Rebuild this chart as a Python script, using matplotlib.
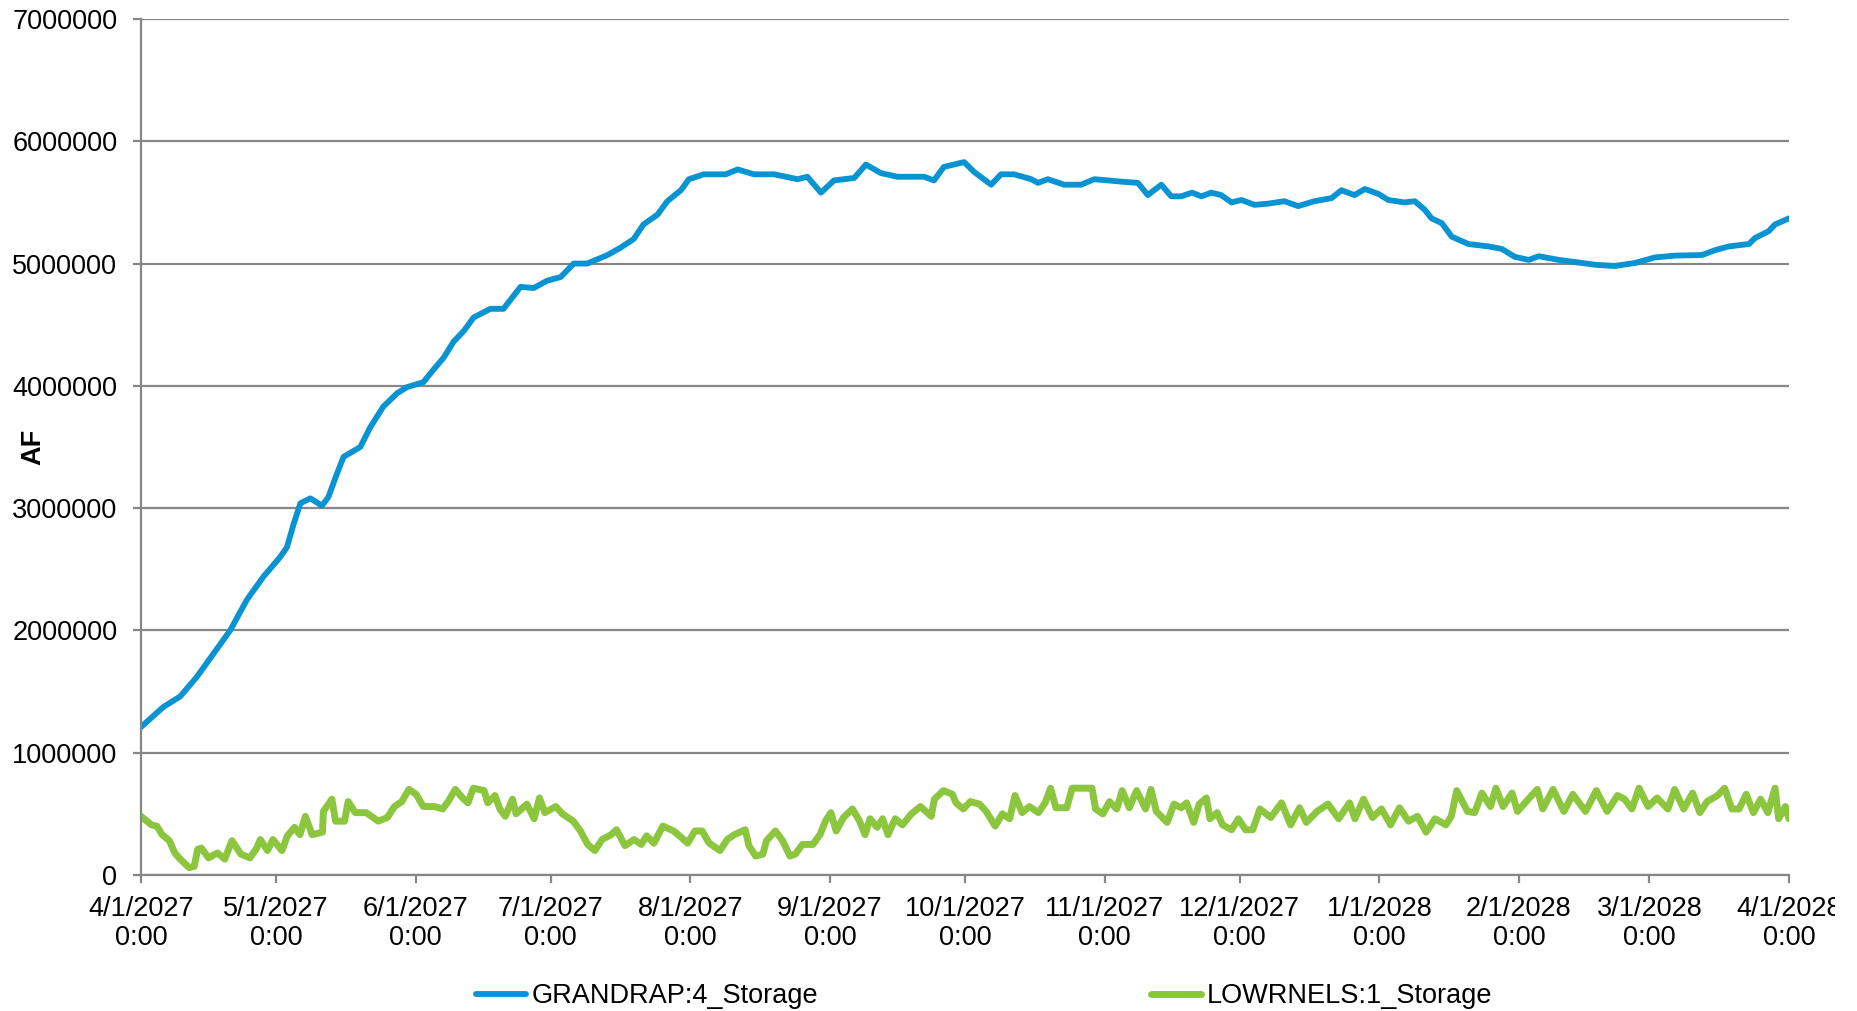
import pandas as pd
import matplotlib
matplotlib.use('Agg')
import matplotlib.pyplot as plt
import matplotlib.dates as mdates
from matplotlib.ticker import FuncFormatter, MultipleLocator
from matplotlib.transforms import Bbox

plt.rcParams['font.family'] = ['Liberation Sans', 'DejaVu Sans']

start = pd.Timestamp('2027-04-01')
end = pd.Timestamp('2028-04-01')

# GRANDRAP:4_Storage (days after 4/1/2027, million AF)
grand_days = [0, 5, 8.7, 12.4, 16.1, 19.8, 23.5, 27.2, 30.9, 32.4, 33.9, 35.4, 37.6, 40.2,
              41.6, 43.5, 45, 48.7, 50.9, 53.8, 56.9, 59.1, 62.7, 64.9, 67.2, 69.4, 71.7,
              73.9, 77.6, 80.5, 82.4, 84.3, 87.2, 90.2, 93.2, 96.1, 99.1, 103.6, 106.5,
              109.4, 111.6, 114.7, 116.9, 119.9, 121.7, 125, 129.9, 132.5, 136.1, 140.6,
              145.8, 148, 151, 153.9, 158.4, 161, 164.3, 168, 173.9, 176.1, 178.3, 182.8,
              185, 188.8, 191, 193.9, 197.7, 199.2, 201.4, 205, 208.8, 211.7, 217.7, 221.4,
              223.6, 226.6, 228.8, 231, 233.4, 235.5, 237.7, 239.9, 242.2, 244.4, 247.3,
              250.3, 253.9, 257, 260.6, 264.4, 266.6, 269.5, 271.8, 274.8, 277, 280.6,
              282.9, 285.1, 286.6, 288.9, 291.1, 294.8, 299.3, 302.2, 305.1, 308.2, 310.4,
              314.9, 320, 323, 327.3, 331.8, 336.2, 340.7, 346.7, 349.6, 352.6, 357.1,
              358.5, 361.5, 362.9, 366]
grand_vals = [1.21, 1.375, 1.46, 1.62, 1.81, 2.0, 2.25, 2.44, 2.6, 2.68, 2.87, 3.04, 3.08, 3.02,
              3.09, 3.28, 3.42, 3.5, 3.66, 3.83, 3.94, 3.99, 4.03, 4.13, 4.23, 4.36, 4.45,
              4.56, 4.63, 4.63, 4.72, 4.81, 4.80, 4.86, 4.89, 5.0, 5.0, 5.07, 5.13,
              5.2, 5.32, 5.40, 5.51, 5.60, 5.69, 5.73, 5.73, 5.77, 5.73, 5.73,
              5.69, 5.71, 5.58, 5.68, 5.70, 5.81, 5.74, 5.71, 5.71, 5.68, 5.79, 5.83,
              5.75, 5.645, 5.73, 5.73, 5.69, 5.66, 5.69, 5.645, 5.645, 5.69, 5.67, 5.66,
              5.56, 5.645, 5.55, 5.55, 5.58, 5.55, 5.58, 5.56, 5.50, 5.52, 5.48,
              5.49, 5.51, 5.47, 5.51, 5.535, 5.60, 5.56, 5.61, 5.57, 5.52, 5.50,
              5.51, 5.44, 5.37, 5.33, 5.22, 5.16, 5.14, 5.12, 5.055, 5.03, 5.06,
              5.03, 5.005, 4.99, 4.98, 5.005, 5.05, 5.065, 5.07, 5.11, 5.14, 5.16,
              5.21, 5.265, 5.32, 5.37]

# LOWRNELS:1_Storage
lowr_days = [0, 2.3, 3.5, 4.7, 6.3, 7.5, 8.7, 10.7, 11.8, 12.6, 13.4, 15.0, 17.0, 18.6, 20.2,
             22.2, 24.2, 25.7, 26.5, 28.1, 29.3, 31.3, 32.5, 34.1, 35.3, 36.5, 38.0, 40.3,
             40.5, 42.4, 43.2, 45.2, 46.0, 47.6, 50.0, 52.7, 54.7, 56.3, 57.9, 59.5, 61.1,
             62.7, 65.1, 67.0, 68.2, 69.8, 71.4, 72.6, 73.8, 76.2, 77.0, 78.6, 79.7, 80.9,
             82.5, 83.3, 85.7, 87.3, 88.5, 89.7, 92.1, 93.6, 96.0, 97.6, 99.2, 100.8, 102.4,
             104.4, 105.6, 107.5, 109.5, 111.1, 112.3, 113.9, 115.9, 118.3,
             119.9, 121.4, 123.0, 124.6, 126.2, 128.6, 130.2, 131.8, 134.2, 135.0, 136.5,
             138.1, 138.9, 140.9, 142.5, 144.1, 145.3, 146.9, 149.2, 150.8, 152.0, 153.2,
             154.4, 156.0, 158.0, 159.6, 160.8, 161.9, 163.5, 164.7, 165.9, 167.5, 169.1,
             171.1, 173.1, 175.5, 176.2, 178.2, 180.2, 181.0, 182.6, 184.2, 186.2, 187.7,
             189.7, 191.3, 192.9, 194.1, 195.7, 197.3, 199.3, 200.8, 202.0, 203.2, 205.6,
             206.8, 208.8, 211.2, 212.0, 213.6, 215.1, 216.7, 217.9, 219.5, 221.1, 223.1,
             224.3, 225.5, 227.9, 229.4, 231.0, 232.2, 233.8, 235.0, 236.6, 237.4, 239.0,
             240.2, 242.2, 243.7, 245.3, 246.9, 248.5, 250.9, 253.3, 255.3, 257.3, 258.8,
             261.2, 263.6, 266.0, 268.4, 269.6, 271.5, 273.5, 275.5, 277.5, 279.5, 281.5,
             283.5, 285.4, 287.4, 289.8, 291.0, 292.2, 294.6, 296.2, 297.8, 299.7, 300.9,
             302.5, 304.5, 305.7, 308.1, 310.1, 311.3, 313.6, 316.0, 318.0, 320.8, 323.2,
             325.6, 327.9, 329.5, 331.1, 332.7, 334.7, 336.7, 339.1, 340.6, 342.6, 344.6,
             346.2, 347.8, 350.1, 351.7, 353.3, 354.9, 356.5, 358.1, 359.7, 361.3, 362.9,
             363.7, 365.2, 366]
lowr_vals = [0.48, 0.41, 0.40, 0.33, 0.28, 0.18, 0.13, 0.06, 0.07, 0.21, 0.22, 0.14, 0.18, 0.13, 0.28,
             0.17, 0.14, 0.22, 0.29, 0.20, 0.29, 0.20, 0.32, 0.39, 0.33, 0.48, 0.33, 0.35,
             0.52, 0.62, 0.44, 0.44, 0.60, 0.51, 0.51, 0.44, 0.47, 0.56, 0.60, 0.70, 0.66,
             0.56, 0.56, 0.54, 0.60, 0.70, 0.63, 0.59, 0.71, 0.69, 0.59, 0.65, 0.54, 0.48,
             0.62, 0.50, 0.58, 0.46, 0.63, 0.51, 0.56, 0.50, 0.44, 0.36, 0.25, 0.20, 0.29,
             0.33, 0.37, 0.24, 0.29, 0.25, 0.32, 0.26, 0.40, 0.36,
             0.31, 0.26, 0.36, 0.36, 0.26, 0.20, 0.29, 0.33, 0.37, 0.24, 0.155,
             0.17, 0.28, 0.36, 0.28, 0.155, 0.17, 0.25, 0.25, 0.33, 0.44, 0.51,
             0.36, 0.47, 0.54, 0.44, 0.33, 0.46, 0.39, 0.46, 0.33, 0.46, 0.41,
             0.50, 0.56, 0.48, 0.62, 0.69, 0.66, 0.59, 0.54, 0.60, 0.58, 0.52,
             0.40, 0.50, 0.46, 0.65, 0.51, 0.56, 0.51, 0.59, 0.71, 0.55, 0.55,
             0.71, 0.71, 0.71, 0.54, 0.50, 0.60, 0.54, 0.69, 0.55, 0.69, 0.54,
             0.70, 0.52, 0.43, 0.58, 0.55, 0.59, 0.43, 0.58, 0.63, 0.46, 0.51,
             0.41, 0.37, 0.46, 0.37, 0.37, 0.54, 0.47, 0.59, 0.41, 0.55, 0.43,
             0.52, 0.58, 0.46, 0.59, 0.46, 0.62, 0.47, 0.54, 0.41, 0.55, 0.44,
             0.48, 0.35, 0.46, 0.41, 0.48, 0.69, 0.52, 0.51, 0.67, 0.56, 0.71,
             0.56, 0.67, 0.52, 0.62, 0.70, 0.54, 0.70, 0.52, 0.66, 0.52, 0.69,
             0.52, 0.65, 0.62, 0.54, 0.71, 0.56, 0.63, 0.54, 0.70, 0.54, 0.67,
             0.51, 0.60, 0.65, 0.71, 0.54, 0.54, 0.66, 0.51, 0.62, 0.51, 0.71,
             0.46, 0.56, 0.46]

grand = pd.Series([v * 1e6 for v in grand_vals],
                  index=start + pd.to_timedelta(grand_days, unit='D'))
lowr = pd.Series([v * 1e6 for v in lowr_vals],
                 index=start + pd.to_timedelta(lowr_days, unit='D'))

blue = '#0893D3'
green = '#8CC63F'
gray = '#878787'

fig = plt.figure(figsize=(18.58, 10.11), dpi=100)
ax = fig.add_axes([141 / 1858, 136 / 1011, 1648 / 1858, 856 / 1011])

ax.plot(grand.index, grand.values, color=blue, lw=4.2, solid_capstyle='round',
        solid_joinstyle='round', label='GRANDRAP:4_Storage')
ax.plot(lowr.index, lowr.values, color=green, lw=5, solid_capstyle='round',
        solid_joinstyle='round', label='LOWRNELS:1_Storage')

ax.set_xlim(start, end)
ax.set_ylim(0, 7000000)
ax.yaxis.set_major_locator(MultipleLocator(1000000))
ax.yaxis.set_major_formatter(FuncFormatter(lambda v, p: '%d' % v))
ax.xaxis.set_major_locator(mdates.MonthLocator(bymonthday=1))
ax.xaxis.set_major_formatter(FuncFormatter(
    lambda v, p: '%d/%d/%d\n0:00' % (mdates.num2date(v).month, mdates.num2date(v).day,
                                      mdates.num2date(v).year)))

ax.grid(axis='y', color=gray, lw=1.6)
ax.set_axisbelow(True)
for s in ['top', 'right']:
    ax.spines[s].set_visible(False)
for s in ['left', 'bottom']:
    ax.spines[s].set_color(gray)
    ax.spines[s].set_linewidth(1.6)
ax.tick_params(axis='both', colors=gray, length=6, width=1.6, labelsize=19.5,
               labelcolor='black')
ax.tick_params(axis='y', pad=11)
ax.tick_params(axis='x', pad=9)

ax.set_ylabel('AF', fontsize=19.5, fontweight='bold')
ax.yaxis.set_label_coords(-0.0573, 0.5)

fig.legend(loc='center', bbox_to_anchor=(0.5296, 0.0147), ncol=2, frameon=False,
           fontsize=19.5, handlelength=1.85, handletextpad=0.2, columnspacing=12.3,
           borderpad=0)

# the last date label is cut off at the right edge in the original
fig.canvas.draw()
clip = Bbox.from_extents(0, 0, 1835, 1011)
for t in ax.get_xticklabels():
    t.set_linespacing(1.15)
    t.set_clip_box(clip)
    t.set_clip_on(True)

fig.savefig('out.png', dpi=100)
